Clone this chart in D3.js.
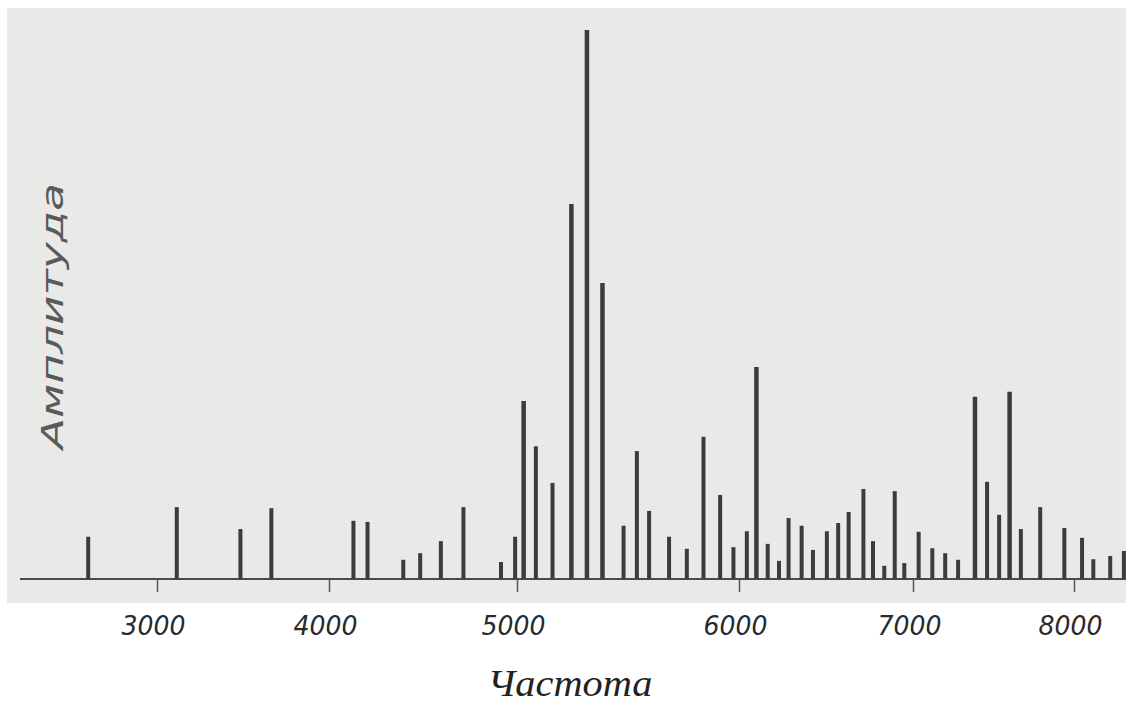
<!DOCTYPE html>
<html>
<head>
<meta charset="utf-8">
<script src="https://cdn.jsdelivr.net/npm/d3@7"></script>
<style>
  body { margin: 0; background: #fff; }
  svg { display: block; }
</style>
</head>
<body>
<div id="chart-area"></div>
<script>
// line frequencies (Hz) and amplitudes (relative, tallest = 100)
const freqs = [
  2600, 3115, 3485, 3665, 4130, 4205, 4395, 4485, 4595, 4715, 4915, 4990,
  5030, 5085, 5160, 5245, 5315, 5385, 5480, 5540, 5595, 5685, 5765, 5840,
  5915, 5975, 6045, 6100, 6165, 6230, 6285, 6360, 6425, 6505, 6570, 6630,
  6715, 6770, 6835, 6895, 6950, 7035, 7120, 7200, 7280, 7385, 7460, 7535,
  7600, 7670, 7790, 7940, 8050, 8120, 8225, 8310
];
const amps = [
  7.7, 13.1, 9.1, 12.9, 10.6, 10.4, 3.5, 4.7, 6.9, 13.1, 3.1, 7.7,
  32.4, 24.2, 17.5, 68.3, 100, 53.9, 9.7, 23.3, 12.4, 7.7, 5.5, 25.9,
  15.3, 5.8, 8.7, 38.6, 6.4, 3.3, 11.1, 9.7, 5.3, 8.7, 10.2, 12.2,
  16.4, 6.9, 2.4, 16.0, 2.9, 8.6, 5.6, 4.7, 3.5, 33.2, 17.7, 11.7,
  34.1, 9.1, 13.1, 9.3, 7.5, 3.6, 4.2, 5.1
];
const tickValues = [3000, 4000, 5000, 6000, 7000, 8000];
const xTitle = 'Частота';
const yTitle = 'Амплитуда';

const width = 1126;
const height = 708;
const baseY = 579;

const svg = d3.select('#chart-area').append('svg')
  .attr('width', width)
  .attr('height', height);

// scanned paper area
svg.append('rect')
  .attr('x', 7)
  .attr('y', 8)
  .attr('width', width - 7)
  .attr('height', 595)
  .attr('fill', '#e9e9e8');

// hand-drawn axis: tick spacing is not even on the original
const x = d3.scaleLinear()
  .domain(tickValues)
  .range([157, 329, 517, 739, 913, 1074]);

const y = d3.scaleLinear()
  .domain([0, 100])
  .range([baseY, 30]);

const data = freqs.map((f, i) => ({freq: f, amp: amps[i]}));

svg.append('line')
  .attr('x1', 20)
  .attr('x2', width)
  .attr('y1', baseY)
  .attr('y2', baseY)
  .attr('stroke', '#4a4a4a')
  .attr('stroke-width', 2);

const xAxisCall = d3.axisBottom(x)
  .tickValues(tickValues)
  .tickSize(13)
  .tickPadding(25)
  .tickFormat(d => d);

const xAxisGroup = svg.append('g')
  .attr('transform', `translate(0, ${baseY})`)
  .call(xAxisCall);

xAxisGroup.select('.domain').remove();
xAxisGroup.selectAll('.tick line')
  .attr('stroke', '#555')
  .attr('stroke-width', 1.5);
xAxisGroup.selectAll('.tick text')
  .attr('dx', -4)
  .attr('fill', '#2a2a2a')
  .attr('font-family', '"DejaVu Sans", sans-serif')
  .attr('font-style', 'italic')
  .attr('font-size', 26)
  .attr('textLength', 64)
  .attr('lengthAdjust', 'spacingAndGlyphs');

svg.append('g')
  .selectAll('line')
  .data(data)
  .enter()
  .append('line')
  .attr('x1', d => x(d.freq))
  .attr('x2', d => x(d.freq))
  .attr('y1', baseY)
  .attr('y2', d => y(d.amp))
  .attr('stroke', '#3c3c3c')
  .attr('stroke-width', d => d.amp > 30 ? 4.5 : 4);

svg.append('text')
  .attr('x', 570)
  .attr('y', 696)
  .attr('text-anchor', 'middle')
  .attr('font-family', '"Liberation Serif", serif')
  .attr('font-style', 'italic')
  .attr('font-size', 38)
  .attr('fill', '#222')
  .attr('textLength', 165)
  .attr('lengthAdjust', 'spacingAndGlyphs')
  .text(xTitle);

svg.append('text')
  .attr('transform', 'translate(63, 316) rotate(-90)')
  .attr('text-anchor', 'middle')
  .attr('font-family', '"DejaVu Sans", sans-serif')
  .attr('font-style', 'italic')
  .attr('font-size', 30)
  .attr('fill', '#5a5a5a')
  .attr('textLength', 266)
  .attr('lengthAdjust', 'spacingAndGlyphs')
  .text(yTitle);
</script>
</body>
</html>
